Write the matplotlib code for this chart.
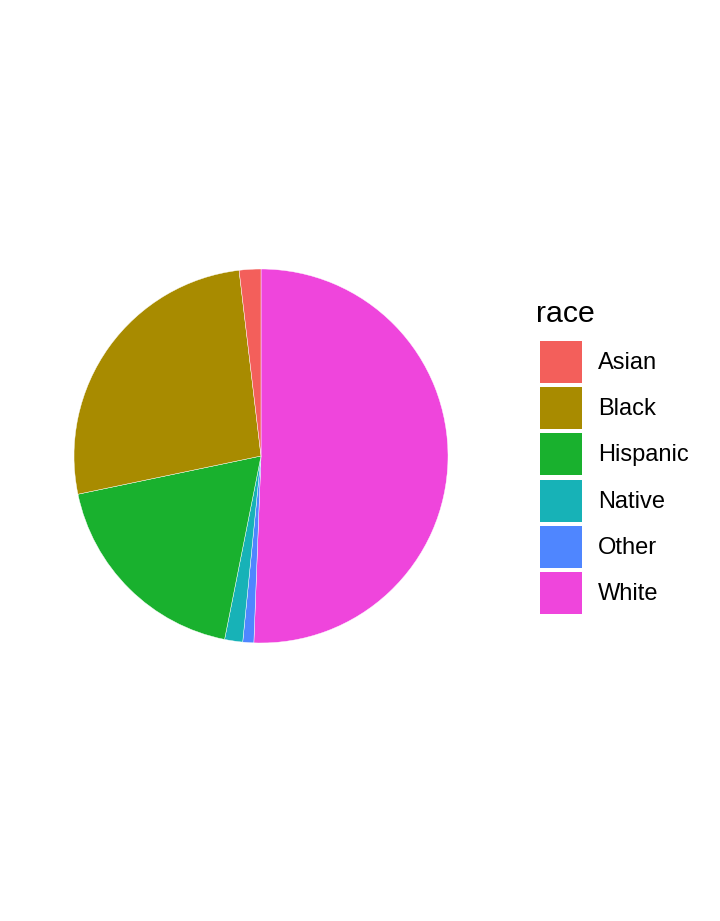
import matplotlib.pyplot as plt
from matplotlib.patches import Rectangle

# pie data (percent), clockwise from 12 o'clock
categories = ['White', 'Other', 'Native', 'Hispanic', 'Black', 'Asian']
values = [50.6, 0.95, 1.56, 18.6, 26.4, 1.87]
colors = ['#EF45DC', '#4F86FF', '#17B2B7', '#19B12E', '#A88B00', '#F35F5B']

legend_order = ['Asian', 'Black', 'Hispanic', 'Native', 'Other', 'White']

W, H = 720, 921
fig = plt.figure(figsize=(W / 100, H / 100), dpi=100)
plt.rcParams['font.family'] = ['Liberation Sans', 'DejaVu Sans']

cx, cy, r = 261, 456, 187
ax = fig.add_axes([(cx - r) / W, (H - cy - r) / H, 2 * r / W, 2 * r / H])
ax.pie(values, colors=colors, startangle=90, counterclock=False,
       wedgeprops={'edgecolor': 'white', 'linewidth': 0.3})
ax.set_xlim(-1, 1)
ax.set_ylim(-1, 1)
ax.set_aspect('equal')
ax.axis('off')

# legend drawn in pixel coordinates
lax = fig.add_axes([0, 0, 1, 1])
lax.set_xlim(0, W)
lax.set_ylim(H, 0)
lax.axis('off')

lax.text(536, 322, 'race', fontsize=21.8, va='baseline', ha='left')
col = dict(zip(categories, colors))
top, step, kh = 341, 46.2, 42
for i, name in enumerate(legend_order):
    y0 = top + i * step
    lax.add_patch(Rectangle((540, y0), 42, kh, facecolor=col[name], edgecolor='none'))
    lax.text(598, y0 + kh / 2 + 1, name, fontsize=17, va='center', ha='left')

fig.savefig('out.png', dpi=100)
